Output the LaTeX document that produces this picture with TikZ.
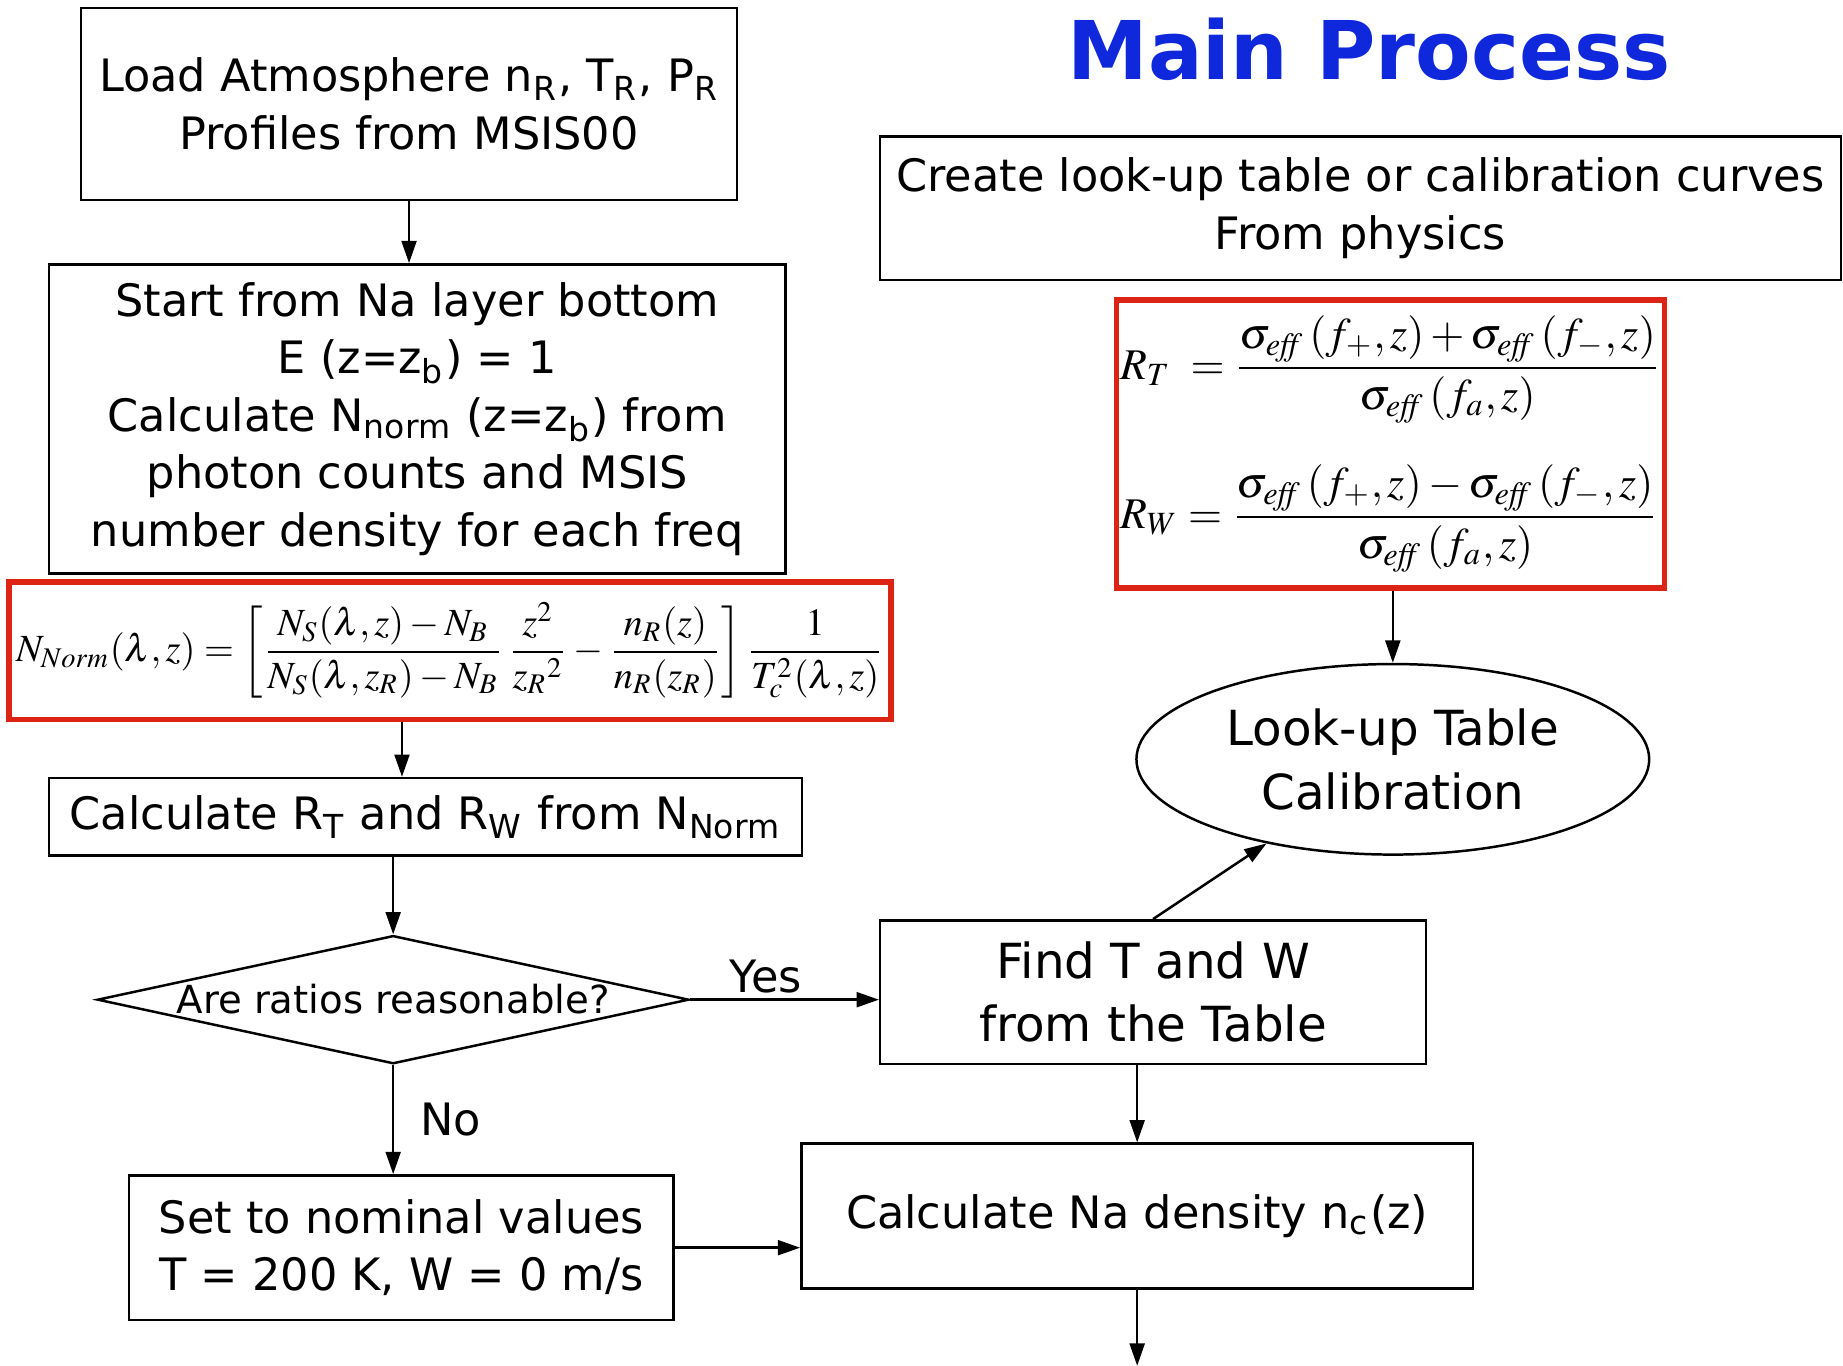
\documentclass[tikz,border=0pt]{standalone}
\usepackage{amsmath}
\usepackage{mathptmx}
\usepackage[no-math]{fontspec}
\setmainfont{DejaVu Sans}
\usetikzlibrary{arrows.meta,positioning,shapes.geometric,calc}
\definecolor{mpblue}{RGB}{15,40,220}
\definecolor{mpred}{RGB}{220,35,20}
\newcommand{\boxfont}{\fontsize{10.8}{13.9}\selectfont}
\newcommand{\bigboxfont}{\fontsize{11.7}{15.4}\selectfont}
\newcommand{\decfont}{\fontsize{9.35}{11}\selectfont}
\newcommand{\titlefont}{\fontsize{19.6}{22}\selectfont\bfseries}
\newcommand{\eqfont}{\fontsize{10.6}{13}\selectfont}
\newcommand{\nnormfont}{\fontsize{9.3}{12}\selectfont}
\newcommand{\eff}{\mathit{eff}}

\begin{document}
\begin{tikzpicture}[x=0.01cm, y=-0.01cm,
  box/.style={draw, line width=0.6pt, inner sep=0pt, align=center, font=\boxfont},
  redbox/.style={draw=mpred, line width=1.4pt, inner sep=0pt, font=\eqfont},
  arr/.style={-{Triangle[length=5.4pt,width=3.6pt]}, line width=0.6pt}]
\useasboundingbox (0,0) rectangle (1568,1162);
% Title
\node[font=\titlefont, text=mpblue] (title) at (1165,42) {Main Process};
% Left column
\node[box, minimum width=5.58cm, minimum height=1.63cm] (load) at (348,88.5)
  {Load Atmosphere n\textsubscript{R}, T\textsubscript{R}, P\textsubscript{R}\\Profiles from MSIS00};
\node[box, minimum width=6.26cm, minimum height=2.63cm] (start) at (355,356.5)
  {Start from Na layer bottom\\E (z=z\textsubscript{b}) = 1\\Calculate N\textsubscript{norm} (z=z\textsubscript{b}) from\\photon counts and MSIS\\number density for each freq};
\node[redbox, minimum width=7.50cm, minimum height=1.17cm, font=\nnormfont] (nnorm) at (383,553.5)
  {$\displaystyle N_{Norm}(\lambda,z)=\left[\frac{N_S(\lambda,z)-N_B}{N_S(\lambda,z_R)-N_B}\,\frac{z^2}{{z_R}^2}-\frac{n_R(z)}{n_R(z_R)}\right]\frac{1}{T_c^2(\lambda,z)}$};
\node[box, minimum width=6.40cm, minimum height=0.66cm] (ratios) at (362,695)
  {Calculate R\textsubscript{T} and R\textsubscript{W} from N\textsubscript{Norm}};
\node[draw, diamond, aspect=4.6, line width=0.6pt, inner sep=0pt, minimum width=5.03cm,
  minimum height=1.09cm, font=\decfont] (check) at (334.5,850.5)
  {\smash{\raisebox{-0.35em}{Are ratios reasonable?}}};
\node[box, minimum width=4.63cm, minimum height=1.23cm] (nominal) at (341.5,1061.5)
  {Set to nominal values\\T = 200 K, W = 0 m/s};
\coordinate (lx) at (342,0);
% Right column
\node[box, minimum width=8.17cm, minimum height=1.22cm] (create) at (1157.5,177)
  {Create look-up table or calibration curves\\From physics};
\node[redbox, minimum width=4.66cm, minimum height=2.45cm, align=left] (rtrw) at (1183,377.5)
  {$\displaystyle R_T\;=\frac{\sigma_{\eff}\,(f_+,z)+\sigma_{\eff}\,(f_-,z)}{\sigma_{\eff}\,(f_a,z)}$\\[9pt]
   $\displaystyle R_W=\frac{\sigma_{\eff}\,(f_+,z)-\sigma_{\eff}\,(f_-,z)}{\sigma_{\eff}\,(f_a,z)}$};
\node[draw, ellipse, line width=0.6pt, inner sep=0pt, minimum width=4.36cm, minimum height=1.62cm,
  align=center, font=\bigboxfont] (lut) at (1185,646) {Look-up Table\\Calibration};
\node[box, minimum width=4.64cm, minimum height=1.22cm, font=\bigboxfont] (find) at (981,844)
  {Find T and W\\from the Table};
\node[box, minimum width=5.71cm, minimum height=1.23cm] (density) at (967.5,1034.5)
  {Calculate Na density n\textsubscript{c}(z)};
\coordinate (out) at (967,1162);
% Arrows
\draw[arr] (load.south) -- (load.south |- start.north);
\draw[arr] (lx |- nnorm.south) -- (lx |- ratios.north);
\draw[arr] (check.north |- ratios.south) -- (check.north);
\draw[arr] (check.east) -- (check.east -| find.west) node[pos=0.4, above=-2pt, font=\boxfont] {Yes};
\draw[arr] (check.south) -- (check.south |- nominal.north) node[midway, right=3pt, font=\boxfont] {No};
\draw[arr] (nominal.east) -- (nominal.east -| density.west);
\draw[arr] (density.north |- find.south) -- (density.north);
\draw[arr] (density.south) -- (density.south |- out);
\draw[arr] (find.north) -- (lut);
\draw[arr] (lut.north |- rtrw.south) -- (lut.north);
\end{tikzpicture}
\end{document}
